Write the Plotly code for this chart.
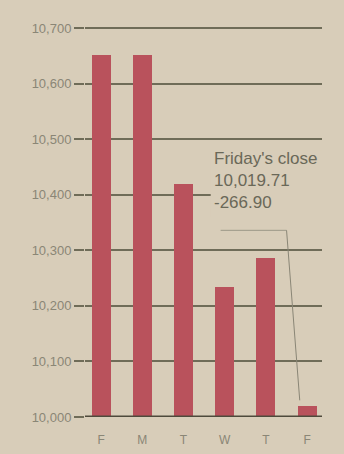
import plotly.graph_objects as go

days = ["F", "M", "T", "W", "T", "F"]
closes = [10651, 10651, 10419, 10234, 10286.61, 10019.71]
y_ticks = [10000, 10100, 10200, 10300, 10400, 10500, 10600, 10700]
y_tick_text = ["10,000", "10,100", "10,200", "10,300", "10,400", "10,500", "10,600", "10,700"]
note_lines = ["Friday's close", "10,019.71", "-266.90"]

BG = "#d8cdb9"
BAR = "#b9525c"
GRID = "#6f6c58"
TXT = "#8a8676"
FONT = "Liberation Sans, Arial, sans-serif"

x = list(range(len(days)))

fig = go.Figure()
fig.add_trace(go.Bar(
    x=x, y=[c - 10000 for c in closes], base=10000,
    marker=dict(color=BAR, line=dict(width=0)),
    width=0.46, hoverinfo="skip",
))

fig.update_layout(
    width=344, height=454,
    margin=dict(l=85, r=22, t=17, b=37),
    paper_bgcolor=BG, plot_bgcolor=BG,
    showlegend=False,
    bargap=0,
    xaxis=dict(
        range=[-0.39, 5.36], tickmode="array", tickvals=x, ticktext=days,
        showgrid=False, zeroline=False, showline=False, ticks="",
        ticklabelstandoff=14, automargin=False,
        tickfont=dict(family=FONT, size=12, color=TXT),
    ),
    yaxis=dict(
        range=[10000, 10720], tickmode="array", tickvals=y_ticks, ticktext=y_tick_text,
        showgrid=True, gridcolor=GRID, gridwidth=2, zeroline=False, showline=False,
        ticks="outside", ticklen=10, tickcolor=GRID, tickwidth=1.5, automargin=False,
        tickfont=dict(family=FONT, size=13, color=TXT),
        layer="below traces",
    ),
)

# mask the grid behind the note
fig.add_shape(type="rect", xref="x", yref="y", x0=2.66, x1=5.36, y0=10360, y1=10480,
              fillcolor=BG, line=dict(width=0), layer="between")

# baseline at 10,000
fig.add_shape(type="line", xref="x", yref="y", x0=-0.39, x1=5.36, y0=10000, y1=10000,
              line=dict(color="#4e4a3c", width=3))

# leader line from annotation to Friday's bar
fig.add_shape(type="line", xref="x", yref="y", x0=2.9, x1=4.5, y0=10336, y1=10336,
              line=dict(color="#9c9888", width=1))
fig.add_shape(type="line", xref="x", yref="y", x0=4.5, x1=4.82, y0=10336, y1=10030,
              line=dict(color="#8a8676", width=1))

fig.add_annotation(
    xref="x", yref="y", x=2.68, y=10486, xanchor="left", yanchor="top",
    text="<br>".join(note_lines), showarrow=False, align="left",
    font=dict(family=FONT, size=17, color="#6a6858"),
)

fig.write_html("out.html")
